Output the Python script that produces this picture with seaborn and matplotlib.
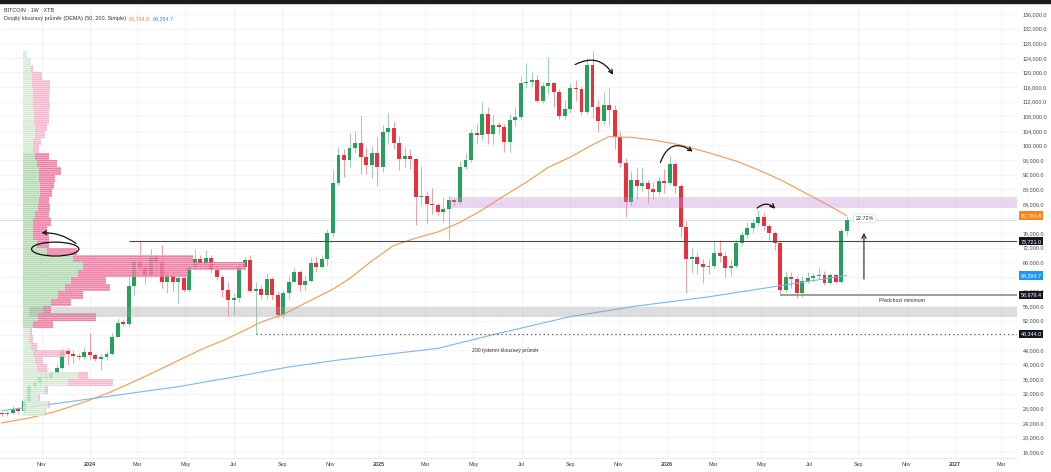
import numpy as np
import pandas as pd
import matplotlib
matplotlib.use("Agg")
import matplotlib.pyplot as plt
import matplotlib.dates as mdates
from matplotlib.patches import Ellipse, FancyArrowPatch, Rectangle
import seaborn as sns

# tydenni svicky BTC, ceny v tisicich USD
first_open = 26.6
closes = [26.3, 26.6, 27.9, 27.2, 30.0, 34.1, 35.0, 36.6, 36.3, 37.6,
          39.0, 43.6, 42.8, 42.4, 42.0, 43.3, 42.6, 41.5, 41.9, 42.8,
          47.6, 51.4, 51.2, 61.5, 68.1, 66.4, 64.5, 69.4, 68.1, 62.7,
          64.2, 62.7, 63.6, 60.4, 66.8, 68.8, 67.5, 69.1, 65.9, 64.0,
          60.4, 57.6, 58.3, 66.8, 68.6, 60.2, 60.6, 59.0, 63.4, 59.0,
          53.5, 59.7, 62.7, 65.4, 61.8, 62.9, 67.9, 66.8, 69.0, 76.1,
          89.8, 97.4, 96.0, 99.4, 100.7, 96.7, 94.6, 98.0, 94.2, 103.8,
          104.7, 100.6, 96.2, 97.2, 96.2, 85.8, 86.1, 84.0, 83.7, 81.8,
          82.5, 85.0, 84.4, 94.0, 96.0, 103.5, 102.8, 108.6, 103.0, 105.6,
          105.0, 101.0, 107.0, 107.7, 117.2, 117.5, 118.0, 112.3, 116.3, 117.2,
          114.7, 108.0, 109.9, 115.6, 115.5, 109.2, 122.0, 110.6, 106.8, 111.1,
          109.7, 102.2, 95.1, 84.6, 90.5, 88.9, 89.8, 88.0, 87.1, 90.3,
          89.8, 94.9, 88.9, 77.7, 68.8, 69.5, 67.5, 66.6, 67.0, 70.4,
          69.7, 66.3, 67.0, 73.2, 75.5, 77.3, 78.7, 80.5, 77.9, 76.1,
          73.3, 60.4, 64.0, 63.3, 59.5, 62.9, 63.8, 64.2, 64.4, 62.4,
          64.5, 62.7, 76.6, 79.6]
highs = [26.9, 27.3, 28.6, 28.2, 30.4, 35.2, 35.9, 37.9, 38.4, 38.3,
         40.2, 44.4, 44.6, 44.0, 43.0, 44.8, 48.6, 43.2, 42.8, 43.6,
         48.5, 52.8, 52.4, 64.0, 69.0, 73.72, 67.5, 71.5, 70.3, 72.7,
         65.3, 65.0, 64.4, 64.3, 67.3, 71.6, 70.0, 71.3, 70.0, 67.2,
         64.4, 62.5, 59.5, 67.6, 69.4, 70.0, 62.5, 61.8, 65.0, 64.0,
         60.0, 60.4, 64.1, 66.4, 66.0, 64.6, 69.4, 69.6, 70.0, 77.0,
         93.4, 99.6, 99.0, 103.5, 104.0, 108.3, 99.5, 99.9, 102.4, 105.5,
         109.0, 106.4, 102.5, 99.5, 99.1, 96.6, 94.4, 87.5, 88.2, 84.3,
         86.0, 86.2, 85.6, 95.6, 97.8, 104.4, 105.8, 111.9, 110.4, 108.7,
         106.5, 106.0, 108.5, 110.5, 118.9, 122.7, 120.0, 119.3, 117.5, 124.3,
         117.5, 115.5, 112.5, 117.0, 117.9, 116.4, 124.0, 126.0, 112.5, 114.6,
         115.6, 111.2, 104.0, 96.6, 93.0, 94.2, 94.2, 90.5, 90.0, 91.3,
         93.5, 97.4, 95.5, 89.5, 79.4, 71.8, 70.7, 68.8, 69.0, 73.6,
         74.1, 70.8, 68.8, 74.0, 76.5, 78.9, 79.9, 82.3, 81.8, 78.6,
         76.6, 73.9, 65.5, 65.4, 64.3, 64.2, 65.2, 65.0, 66.6, 65.5,
         65.0, 64.9, 77.5, 80.6]
lows = [25.9, 26.0, 26.4, 26.6, 26.8, 29.7, 33.4, 34.2, 35.5, 35.7,
        37.1, 38.8, 40.2, 40.5, 41.2, 41.6, 41.4, 40.8, 38.6, 41.2,
        42.6, 47.4, 50.6, 50.6, 59.0, 65.8, 62.0, 64.0, 66.0, 60.8,
        59.6, 60.2, 56.5, 59.8, 60.2, 66.0, 66.2, 66.8, 65.0, 63.2,
        58.4, 53.3, 53.8, 57.0, 66.0, 59.8, 48.344, 58.0, 57.8, 57.6,
        52.6, 52.8, 58.0, 62.5, 60.0, 60.5, 62.6, 65.2, 66.5, 67.0,
        75.0, 89.2, 91.3, 94.0, 97.8, 92.2, 92.3, 91.0, 88.9, 92.8,
        100.5, 99.0, 93.3, 94.0, 93.5, 78.2, 83.8, 78.6, 81.2, 80.6,
        79.0, 74.2, 83.7, 84.0, 93.4, 95.4, 100.7, 101.5, 100.5, 100.4,
        103.2, 98.3, 98.2, 105.2, 107.3, 115.8, 116.0, 112.0, 111.5, 114.0,
        110.6, 107.2, 107.3, 108.9, 112.2, 108.2, 108.7, 107.5, 103.6, 105.5,
        105.5, 99.0, 94.0, 80.5, 83.8, 85.2, 87.6, 84.1, 85.4, 86.5,
        87.0, 89.2, 87.0, 75.0, 59.6, 65.0, 64.8, 62.3, 64.7, 66.5,
        68.0, 64.0, 64.3, 66.5, 72.5, 74.6, 76.0, 78.0, 76.8, 74.1,
        71.3, 58.9794, 59.8, 61.0, 58.3, 58.6, 62.2, 62.5, 63.5, 61.7,
        62.0, 62.3, 62.4, 75.3]

# klouzave prumery (index tydne -> hodnota)
sma50_week = [0, 5, 10, 15, 20, 25, 30, 33, 36, 40, 43, 47, 51, 55, 60, 63, 67, 71, 75,
              79, 83, 87, 91, 95, 99, 103, 107, 110, 114, 118, 123, 128, 133, 137, 141,
              145, 149, 153]
sma50_val = [24.0, 25.3, 27.2, 29.7, 32.6, 36.0, 39.6, 41.8, 44.0, 46.5, 48.6, 51.6, 53.7,
             56.8, 60.6, 63.5, 68.3, 72.6, 74.6, 76.3, 78.9, 82.3, 86.2, 89.9, 94.0, 96.8,
             100.2, 102.4, 102.2, 101.5, 100.1, 98.0, 95.7, 93.3, 90.6, 87.4, 84.2, 80.7648]
sma200_week = [0, 10, 20, 32, 43, 52, 61, 70, 79, 90, 103, 115, 128, 142, 153]
sma200_val = [27.3, 29.3, 31.4, 33.9, 36.8, 39.3, 41.2, 42.8, 44.4, 48.5, 53.1, 56.0,
              58.5, 61.8, 64.3847]

# volume profile (stred radku, nakupni / prodejni objem)
vp_price = [27, 29, 31, 33, 35, 37, 39, 41, 43, 45, 47, 49, 51, 53, 55, 57, 59, 61, 63, 65,
            67, 69, 71, 73, 75, 77, 79, 81, 83, 85, 87, 89, 91, 93, 95, 97, 99, 101, 103,
            105, 107, 109, 111, 113, 115, 117, 119, 121, 123, 125]
vp_up = [22, 25, 15, 22, 45, 55, 14, 12, 10, 8, 6, 7, 10, 15, 20, 28, 35, 42, 48, 55,
         60, 50, 24, 14, 10, 10, 10, 12, 15, 16, 17, 17, 16, 16, 14, 12, 10, 10, 12,
         12, 11, 11, 10, 10, 10, 9, 9, 8, 6, 4]
vp_down = [1, 2, 2, 3, 45, 10, 10, 8, 33, 6, 4, 2, 20, 58, 8, 20, 25, 45, 35, 110,
           162, 120, 30, 12, 16, 14, 18, 14, 12, 10, 12, 14, 16, 22, 20, 14, 6, 8, 10,
           12, 15, 15, 17, 16, 17, 18, 10, 2, 1, 0]
value_area = (51, 97)

tick_labels = ['Nov', '2024', 'Mar', 'May', 'Jul', 'Sep', 'Nov', '2025', 'Mar', 'May', 'Jul',
               'Sep', 'Nov', '2026', 'Mar', 'May', 'Jul', 'Sep', 'Nov', '2027', 'Mar']

ath_level = 73.721
prev_min_level = 58.9794
low_level = 48.344
grey_zone = (53.0, 55.8)
purple_zone = (82.8, 85.9)
move_pct = '22.72%'

GREEN = '#26a05c'
RED = '#e9303f'
ORANGE = '#f7841f'
BLUE = '#2196f3'

sns.set_theme(style='white')
plt.rcParams['font.family'] = ['Liberation Sans', 'DejaVu Sans']
plt.rcParams['hatch.linewidth'] = 0.35

dates = pd.date_range('2023-09-11', periods=len(closes), freq='7D')
df = pd.DataFrame({'date': dates, 'close': closes, 'high': highs, 'low': lows})
df['open'] = [first_open] + closes[:-1]
df['x'] = mdates.date2num(df['date'])
df['up'] = df['close'] >= df['open']
x_left = mdates.date2num(pd.Timestamp('2023-09-09'))
x_right = mdates.date2num(pd.Timestamp('2027-03-21'))

fig = plt.figure(figsize=(10.51, 4.72), dpi=100)
ax = fig.add_axes([0, 14 / 472, 1017 / 1051, 454 / 472])
ax.set_xlim(x_left, x_right)
ax.set_ylim(14.36, 138.74)

tag_levels = [sma50_val[-1], ath_level, sma200_val[-1], prev_min_level, low_level]


def fmt_price(v, pos):
    # popisky schovane pod cenovymi stitky
    if any(abs(v - t) < 0.9 for t in tag_levels):
        return ''
    return f"{v * 1000:,.1f}"


# mrizka a osy
ax.set_yticks(np.arange(16, 137, 4))
ax.yaxis.set_major_formatter(plt.FuncFormatter(fmt_price))
ax.yaxis.tick_right()
tick_dates = pd.date_range('2023-11-01', periods=len(tick_labels), freq='2MS')
ax.set_xticks(mdates.date2num(tick_dates))
ax.set_xticklabels(tick_labels)
for lab in ax.get_xticklabels():
    if lab.get_text().isdigit():
        lab.set_fontweight('bold')
ax.tick_params(axis='y', length=0, pad=4.3, labelsize=3.9, labelcolor='#444')
ax.tick_params(axis='x', length=0, pad=3, labelsize=3.9, labelcolor='#444')
ax.grid(True, color='#f3f3f3', lw=0.6)
ax.set_axisbelow(True)
for s in ax.spines.values():
    s.set_visible(False)
ax.spines['bottom'].set_visible(True)
ax.spines['bottom'].set_color('#e8e8e8')
ax.spines['bottom'].set_linewidth(0.6)

# aktualni cena
ax.axhline(closes[-1], color='#b9e4dc', lw=0.6, zorder=1)

# svicky
cols = np.where(df['up'], GREEN, RED)
ax.vlines(df['x'], df['low'], df['high'], colors=cols, lw=0.6, alpha=0.55, zorder=2)
body = (df['close'] - df['open']).abs().clip(lower=0.3)
ax.bar(df['x'], body, bottom=df[['open', 'close']].min(axis=1), width=5,
       color=cols, linewidth=0, zorder=3)

# klouzave prumery
sns.lineplot(x=df['x'].iloc[sma50_week].values, y=sma50_val, ax=ax, color='#f39a4c',
             lw=0.8, estimator=None, zorder=4)
sns.lineplot(x=df['x'].iloc[sma200_week].values, y=sma200_val, ax=ax, color='#7cb7e8',
             lw=0.8, estimator=None, zorder=4)

# volume profile vlevo
vp_ax = ax.inset_axes([23 / 1017, 0, 1 - 23 / 1017, 1], zorder=4.5)
vp_ax.set_xlim(0, 994)
vp_ax.set_ylim(ax.get_ylim())
vp_ax.axis('off')
in_va = [(value_area[0] <= p <= value_area[1]) for p in vp_price]
up_cols = ['#a3d3a3' if v else '#cbe7cb' for v in in_va]
dn_cols = ['#ec5f8e' if v else '#f4a6c0' for v in in_va]
vp_ax.barh(vp_price, vp_up, height=2.0, color=up_cols, lw=0, alpha=0.8,
           hatch='--------', edgecolor='white')
vp_ax.barh(vp_price, vp_down, height=2.0, left=vp_up, color=dn_cols, lw=0, alpha=0.8,
           hatch='--------', edgecolor='white')

# zony
ax.fill_between([df['x'].iloc[5], x_right], grey_zone[0], grey_zone[1],
                color='#9e9e9e', alpha=0.35, lw=0, zorder=6)
ax.fill_between([df['x'].iloc[81], x_right], purple_zone[0], purple_zone[1],
                color='#c48ad6', alpha=0.35, lw=0, zorder=6)

# urovne
ax.hlines(ath_level, df['x'].iloc[23], x_right, color='#4a4a4a', lw=0.8, zorder=5)
ax.hlines(prev_min_level, df['x'].iloc[141], x_right, color='#9c9c9c', lw=1.4, zorder=5)
ax.hlines(low_level, df['x'].iloc[46], x_right, color='#555555', lw=0.8,
          linestyles=(0, (1.2, 2.6)), zorder=5)


def d(s):
    return mdates.date2num(pd.Timestamp(s))


ax.text(d('2026-10-26'), 57.6, 'Předchozí minimum', fontsize=3.7, color='#333',
        ha='center', va='center', zorder=8)
ax.text(d('2025-06-11'), 43.8, '200 týdenní klouzavý průměr', fontsize=3.7, color='#333',
        ha='center', va='center', zorder=8)
ax.text(d('2026-09-09'), 80.0, move_pct, fontsize=3.9, color='#333', ha='center',
        va='center', zorder=9,
        bbox=dict(boxstyle='round,pad=0.35', fc='white', ec='#dddddd', lw=0.5))
ax.annotate('', xy=(d('2026-09-08'), 76.8), xytext=(d('2026-09-08'), 62.6),
            arrowprops=dict(arrowstyle='->', color='#222', lw=0.8, mutation_scale=8),
            zorder=9)

# rucne kreslene sipky
for a, b, rad in [(('2025-09-04', 121.8), ('2025-10-27', 118.7), -0.5),
                  (('2025-12-23', 94.6), ('2026-02-06', 97.9), -0.7),
                  (('2026-04-23', 82.3), ('2026-05-21', 82.1), -0.55),
                  (('2023-12-17', 72.7), ('2023-10-28', 76.0), 0.2)]:
    ax.add_patch(FancyArrowPatch((d(a[0]), a[1]), (d(b[0]), b[1]),
                                 connectionstyle=f'arc3,rad={rad}', arrowstyle='->',
                                 mutation_scale=7, lw=0.9, color='#111', zorder=9))
ax.add_patch(Ellipse((d('2023-11-18'), 71.6), 60, 3.8, fill=False, ec='#111', lw=0.9,
                     zorder=9))


# cenove stitky vpravo
def price_tag(val, fc):
    ax.annotate(f"{val * 1000:,.1f}", xy=(1.0035, val), xycoords=('axes fraction', 'data'),
                fontsize=3.9, color='white', va='center', ha='left', zorder=10,
                annotation_clip=False,
                bbox=dict(boxstyle='square,pad=0.3', fc=fc, ec='none'))


price_tag(sma50_val[-1], ORANGE)
price_tag(ath_level, '#131722')
price_tag(sma200_val[-1], BLUE)
price_tag(prev_min_level, '#131722')
price_tag(low_level, '#131722')

# hlavicka
fig.text(4 / 1051, 1 - 11 / 472, 'BITCOIN · 1W · XTB', fontsize=3.9, color='#333',
         va='center')
t2 = fig.text(4 / 1051, 1 - 18.5 / 472, 'Dvojitý klouzavý průměr (DEMA) (50, 200, Simple)',
              fontsize=3.9, color='#333', va='center')
a1 = ax.annotate(f"{sma50_val[-1] * 1000:,.1f}", xy=(1, 0.5), xycoords=t2, xytext=(2, 0),
                 textcoords='offset points', fontsize=3.9, color=ORANGE, va='center',
                 annotation_clip=False)
ax.annotate(f"{sma200_val[-1] * 1000:,.1f}", xy=(1, 0.5), xycoords=a1, xytext=(2, 0),
            textcoords='offset points', fontsize=3.9, color=BLUE, va='center',
            annotation_clip=False)

fig.add_artist(Rectangle((0, 1 - 3 / 472), 1, 3 / 472, transform=fig.transFigure,
                         color='#1c1c1c'))

fig.savefig('out.png', dpi=100)
